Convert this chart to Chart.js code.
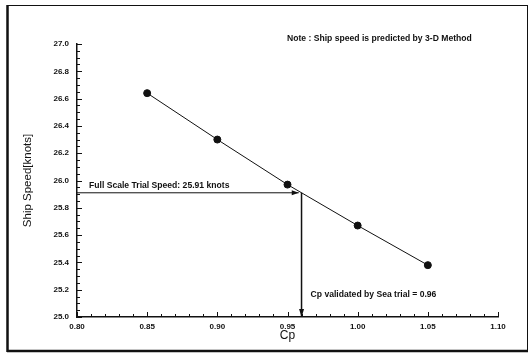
<!DOCTYPE html>
<html>
<head>
<meta charset="utf-8">
<script src="https://cdn.jsdelivr.net/npm/chart.js@4/dist/chart.umd.min.js"></script>
<style>
  html, body { margin: 0; padding: 0; background: #fff; }
  #wrap { width: 529px; height: 353px; position: relative; }
</style>
</head>
<body>
<div id="wrap"><canvas id="speedChart" width="529" height="353"></canvas></div>
<script>
// data
const cpValues = [0.85, 0.90, 0.95, 1.00, 1.05];
const speedValues = [26.64, 26.30, 25.97, 25.67, 25.38];
const trialSpeed = 25.91;
const trialCp = 0.96;
const xMin = 0.80, xMax = 1.10, xStep = 0.05;
const yMin = 25.0, yMax = 27.0, yStep = 0.2;
const noteText = 'Note : Ship speed is predicted by 3-D Method';
const speedText = 'Full Scale Trial Speed: 25.91 knots';
const cpText = 'Cp validated by Sea trial = 0.96';

const ink = '#111';
const FONT = "'Liberation Sans', Arial, sans-serif";

// outer frame round the whole picture
const framePlugin = {
    id: 'frame',
    afterDraw(chart) {
        const ctx = chart.ctx;
        ctx.save();
        ctx.strokeStyle = ink;
        ctx.lineWidth = 1;
        ctx.strokeRect(7.5, 5.5, 520, 346);
        ctx.lineWidth = 2.5;
        ctx.beginPath();
        ctx.moveTo(7.5, 5); ctx.lineTo(7.5, 352);
        ctx.moveTo(7, 351); ctx.lineTo(528, 351);
        ctx.stroke();
        ctx.restore();
    }
};

// inward major / minor ticks on left and bottom axes
const ticksPlugin = {
    id: 'inTicks',
    afterDraw(chart) {
        const ctx = chart.ctx;
        const x = chart.scales.x, y = chart.scales.y;
        const a = chart.chartArea;
        ctx.save();
        ctx.strokeStyle = ink;
        ctx.lineWidth = 1;
        ctx.beginPath();
        // y: minor every 0.05
        for (let i = 0; i <= Math.round((yMax - yMin) / 0.05); i++) {
            const v = yMin + i * 0.05;
            const py = Math.round(y.getPixelForValue(v)) + 0.5;
            const major = i % 4 === 0;
            ctx.moveTo(a.left, py);
            ctx.lineTo(a.left + (major ? 5 : 3), py);
        }
        // x: minor every 0.01
        for (let i = 0; i <= Math.round((xMax - xMin) / 0.01); i++) {
            const v = xMin + i * 0.01;
            const px = Math.round(x.getPixelForValue(v)) + 0.5;
            const major = i % 5 === 0;
            ctx.moveTo(px, a.bottom);
            ctx.lineTo(px, a.bottom - (major ? 5 : 3));
        }
        ctx.stroke();
        ctx.restore();
    }
};

// arrow heads on the guide lines and the annotation texts
const notesPlugin = {
    id: 'notes',
    afterDatasetsDraw(chart) {
        const ctx = chart.ctx;
        const x = chart.scales.x, y = chart.scales.y;
        const a = chart.chartArea;
        const hEnd = chart.getDatasetMeta(1).data[1];
        const vEnd = chart.getDatasetMeta(2).data[1];
        ctx.save();
        ctx.fillStyle = ink;
        // right pointing head
        ctx.beginPath();
        ctx.moveTo(hEnd.x, hEnd.y);
        ctx.lineTo(hEnd.x - 7, hEnd.y - 2.5);
        ctx.lineTo(hEnd.x - 7, hEnd.y + 2.5);
        ctx.closePath();
        ctx.fill();
        // down pointing head
        ctx.beginPath();
        ctx.moveTo(vEnd.x, vEnd.y);
        ctx.lineTo(vEnd.x - 2.5, vEnd.y - 8);
        ctx.lineTo(vEnd.x + 2.5, vEnd.y - 8);
        ctx.closePath();
        ctx.fill();

        ctx.textBaseline = 'middle';
        ctx.textAlign = 'left';
        ctx.font = 'bold 8.6px ' + FONT;
        ctx.fillText(noteText, a.right - 211, a.top - 5);
        ctx.fillText(speedText, x.getPixelForValue(xMin) + 12, y.getPixelForValue(trialSpeed) - 7);
        ctx.fillText(cpText, x.getPixelForValue(trialCp) + 9, y.getPixelForValue(yMin) - 22);
        ctx.restore();
    }
};

new Chart(document.getElementById('speedChart'), {
    type: 'scatter',
    data: {
        datasets: [
            {
                label: 'Ship speed',
                data: cpValues.map((c, i) => ({ x: c, y: speedValues[i] })),
                showLine: true,
                borderColor: ink,
                backgroundColor: ink,
                borderWidth: 1,
                pointRadius: 3.5
            },
            {
                label: 'Trial speed',
                data: [{ x: xMin, y: trialSpeed }, { x: trialCp - 0.002, y: trialSpeed }],
                showLine: true,
                borderColor: ink,
                borderWidth: 1,
                pointRadius: 0
            },
            {
                label: 'Trial Cp',
                data: [{ x: trialCp, y: trialSpeed }, { x: trialCp, y: yMin }],
                showLine: true,
                borderColor: ink,
                borderWidth: 1.5,
                pointRadius: 0
            }
        ]
    },
    options: {
        responsive: false,
        animation: false,
        events: [],
        layout: { padding: { left: 0, top: 44, right: 31, bottom: 0 } },
        plugins: {
            legend: { display: false },
            tooltip: { enabled: false }
        },
        scales: {
            x: {
                type: 'linear',
                min: xMin,
                max: xMax,
                afterFit: (s) => { s.height = 36; },
                border: { display: true, color: ink, width: 1.5 },
                grid: { drawOnChartArea: false, drawTicks: false },
                ticks: {
                    stepSize: xStep,
                    padding: 5,
                    color: ink,
                    font: { family: FONT, size: 8, weight: 'bold' },
                    callback: (v) => v.toFixed(2)
                },
                title: {
                    display: true,
                    text: 'Cp',
                    color: ink,
                    padding: { top: 10, bottom: 10 },
                    font: { family: FONT, size: 12 }
                }
            },
            y: {
                type: 'linear',
                min: yMin,
                max: yMax,
                afterFit: (s) => { s.width = 77; },
                border: { display: true, color: ink, width: 1.5 },
                grid: { drawOnChartArea: false, drawTicks: false },
                ticks: {
                    stepSize: yStep,
                    padding: 8,
                    color: ink,
                    font: { family: FONT, size: 8, weight: 'bold' },
                    callback: (v) => v.toFixed(1)
                },
                title: {
                    display: true,
                    text: 'Ship Speed[knots]',
                    color: ink,
                    padding: { top: 21, bottom: 21 },
                    font: { family: FONT, size: 11.5 }
                }
            }
        }
    },
    plugins: [framePlugin, ticksPlugin, notesPlugin]
});
</script>
</body>
</html>
